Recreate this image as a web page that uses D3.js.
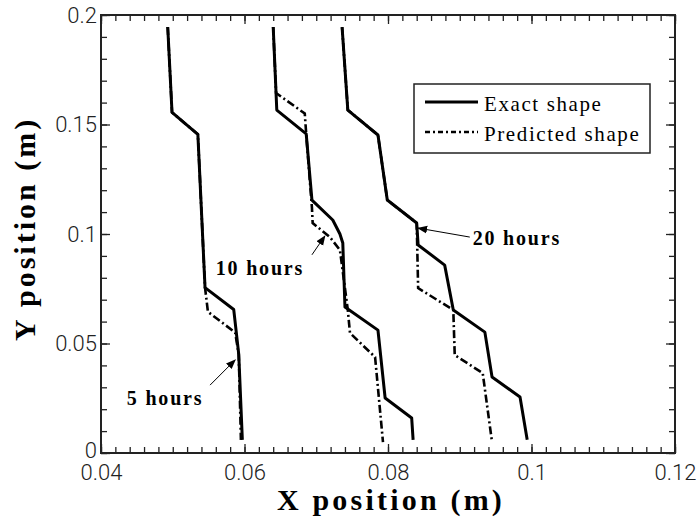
<!DOCTYPE html>
<html>
<head>
<meta charset="utf-8">
<script src="https://cdn.jsdelivr.net/npm/d3@7"></script>
<style>
  html, body { margin: 0; padding: 0; background: #fff; }
  svg { display: block; }
</style>
</head>
<body>
<svg id="chart" width="698" height="521"></svg>
<script>
// ---- data (x, y in metres) ----
const exact5  = [[0.0493,0.1945],[0.0499,0.1555],[0.0535,0.1455],[0.0545,0.0755],[0.0585,0.0655],[0.0592,0.0450],[0.0597,0.0060]];
const pred5   = [[0.0493,0.1945],[0.0499,0.1555],[0.0535,0.1455],[0.0545,0.0755],[0.0549,0.0645],[0.0587,0.0550],[0.0592,0.0450],[0.0595,0.0060]];
const exact10 = [[0.0640,0.1945],[0.0645,0.1566],[0.0686,0.1457],[0.0694,0.1155],[0.0723,0.1064],[0.0733,0.1000],[0.0737,0.0959],[0.0740,0.0667],[0.0786,0.0561],[0.0796,0.0251],[0.0833,0.0160],[0.0835,0.0060]];
const pred10  = [[0.0640,0.1945],[0.0644,0.1644],[0.0684,0.1550],[0.0686,0.1457],[0.0694,0.1120],[0.0695,0.1050],[0.0719,0.0986],[0.0733,0.0927],[0.0744,0.0653],[0.0747,0.0548],[0.0782,0.0438],[0.0793,0.0050]];
const exact20 = [[0.0736,0.1945],[0.0744,0.1566],[0.0786,0.1452],[0.0799,0.1155],[0.0840,0.1050],[0.0842,0.0950],[0.0879,0.0858],[0.0891,0.0653],[0.0935,0.0552],[0.0945,0.0347],[0.0984,0.0256],[0.0994,0.0060]];
const pred20  = [[0.0736,0.1945],[0.0744,0.1566],[0.0786,0.1452],[0.0799,0.1155],[0.0840,0.1050],[0.0842,0.0753],[0.0891,0.0653],[0.0893,0.0447],[0.0932,0.0365],[0.0945,0.0050]];

const xTicks = [0.04, 0.06, 0.08, 0.10, 0.12];
const xTickLabels = ["0.04", "0.06", "0.08", "0.1", "0.12"];
const yTicks = [0, 0.05, 0.10, 0.15, 0.20];
const yTickLabels = ["0", "0.05", "0.1", "0.15", "0.2"];
const xMinor = d3.range(0, 41).map(i => 0.04 + i * 0.002);
const yMinor = d3.range(0, 21).map(i => i * 0.01);

const legendLabels = ["Exact shape", "Predicted shape"];
// annotation: label, text anchor point, arrow start, arrow tip (data units)
const annotations = [
  {label: "5 hours",  text: [0.0436, 0.0219], from: [0.0552, 0.0310], to: [0.0587, 0.0425]},
  {label: "10 hours", text: [0.0560, 0.0813], from: [0.0694, 0.0905], to: [0.0712, 0.0991]},
  {label: "20 hours", text: [0.0918, 0.0950], from: [0.0914, 0.0986], to: [0.0842, 0.1027]}
];

// ---- layout ----
const W = 698, H = 521;
const m = {left: 101, right: 698 - 675, top: 15, bottom: 521 - 453};
const iw = W - m.left - m.right, ih = H - m.top - m.bottom;

const svg = d3.select("#chart");
const defs = svg.append("defs");
defs.append("marker").attr("id", "arr").attr("viewBox", "0 0 10 10")
  .attr("refX", 9).attr("refY", 5).attr("markerWidth", 10).attr("markerHeight", 10)
  .attr("markerUnits", "userSpaceOnUse").attr("orient", "auto")
  .append("path").attr("d", "M0,1 L10,5 L0,9 Z").attr("fill", "#000");

const g = svg.append("g").attr("transform", `translate(${m.left},${m.top})`);
const x = d3.scaleLinear().domain([0.04, 0.12]).range([0, iw]);
const y = d3.scaleLinear().domain([0, 0.2]).range([ih, 0]);

const tickFont = "Roboto, 'Liberation Sans', sans-serif";
function styleAxis(sel) {
  sel.select(".domain").remove();
  sel.selectAll(".tick line").attr("stroke", "#222").attr("stroke-width", 1.3);
}

// minor ticks
g.append("g").attr("transform", `translate(0,${ih})`)
  .call(d3.axisBottom(x).tickValues(xMinor).tickSize(-6).tickFormat("")).call(styleAxis);
g.append("g")
  .call(d3.axisTop(x).tickValues(xMinor).tickSize(-6).tickFormat("")).call(styleAxis);
g.append("g")
  .call(d3.axisLeft(y).tickValues(yMinor).tickSize(-6).tickFormat("")).call(styleAxis);
g.append("g").attr("transform", `translate(${iw},0)`)
  .call(d3.axisRight(y).tickValues(yMinor).tickSize(-6).tickFormat("")).call(styleAxis);

// major ticks
const xb = g.append("g").attr("transform", `translate(0,${ih})`)
  .call(d3.axisBottom(x).tickValues(xTicks).tickSize(-9).tickFormat((d, i) => xTickLabels[i]))
  .call(styleAxis);
xb.selectAll("text").attr("y", 27).attr("dy", 0)
  .style("font-family", tickFont).style("font-weight", 300).style("font-size", "22px").attr("fill", "#222");
g.append("g").call(d3.axisTop(x).tickValues(xTicks).tickSize(-9).tickFormat("")).call(styleAxis);

const yl = g.append("g")
  .call(d3.axisLeft(y).tickValues(yTicks).tickSize(-9).tickPadding(4).tickFormat((d, i) => yTickLabels[i]))
  .call(styleAxis);
yl.selectAll("text").attr("x", -4)
  .style("font-family", tickFont).style("font-weight", 300).style("font-size", "22px").attr("fill", "#222");
yl.selectAll(".tick").filter(d => d === 0).select("text").attr("dy", "0.2em");
g.append("g").attr("transform", `translate(${iw},0)`)
  .call(d3.axisRight(y).tickValues(yTicks).tickSize(-9).tickFormat("")).call(styleAxis);

// frame
g.append("rect").attr("x", 0).attr("y", 0).attr("width", iw).attr("height", ih)
  .attr("fill", "none").attr("stroke", "#222").attr("stroke-width", 2);

// curves
const line = d3.line().x(d => x(d[0])).y(d => y(d[1]));
const solidSeries = [exact5, exact10, exact20];
const dashSeries = [pred5, pred10, pred20];
const DASH = "8,3,2,3";
g.selectAll(".pred").data(dashSeries).join("path").attr("class", "pred")
  .attr("d", line).attr("fill", "none").attr("stroke", "#000")
  .attr("stroke-width", 2.6).attr("stroke-dasharray", DASH);
g.selectAll(".exact").data(solidSeries).join("path").attr("class", "exact")
  .attr("d", line).attr("fill", "none").attr("stroke", "#000")
  .attr("stroke-width", 3).attr("stroke-linejoin", "round");

// annotations
const serif = "'Liberation Serif', 'Times New Roman', serif";
annotations.forEach(a => {
  g.append("line")
    .attr("x1", x(a.from[0])).attr("y1", y(a.from[1]))
    .attr("x2", x(a.to[0])).attr("y2", y(a.to[1]))
    .attr("stroke", "#000").attr("stroke-width", 1).attr("marker-end", "url(#arr)");
  g.append("text").attr("x", x(a.text[0])).attr("y", y(a.text[1]))
    .text(a.label)
    .style("font-family", serif).style("font-weight", "bold").style("font-size", "20px")
    .style("letter-spacing", "1.8px").attr("fill", "#000");
});

// legend
const lg = svg.append("g").attr("transform", "translate(414,84)");
lg.append("rect").attr("width", 236).attr("height", 69)
  .attr("fill", "#fff").attr("stroke", "#222").attr("stroke-width", 1.5);
legendLabels.forEach((lab, i) => {
  const yy = 18 + i * 30;
  lg.append("line").attr("x1", 11).attr("x2", 64).attr("y1", yy).attr("y2", yy)
    .attr("stroke", "#000").attr("stroke-width", i === 0 ? 2.8 : 2.6)
    .attr("stroke-dasharray", i === 0 ? null : "5,3,2,3");
  lg.append("text").attr("x", 70).attr("y", yy + 9).text(lab)
    .style("font-family", serif).style("font-size", "21px")
    .style("letter-spacing", "1.6px").attr("fill", "#000");
});

// axis titles
svg.append("text").attr("x", 391).attr("y", 510).attr("text-anchor", "middle")
  .text("X position (m)")
  .style("font-family", serif).style("font-weight", "bold").style("font-size", "30px")
  .style("letter-spacing", "3.2px").attr("fill", "#000");
svg.append("text").attr("transform", "translate(35,229) rotate(-90)").attr("text-anchor", "middle")
  .text("Y position (m)")
  .style("font-family", serif).style("font-weight", "bold").style("font-size", "30px")
  .style("letter-spacing", "3px").attr("fill", "#000");
</script>
</body>
</html>
